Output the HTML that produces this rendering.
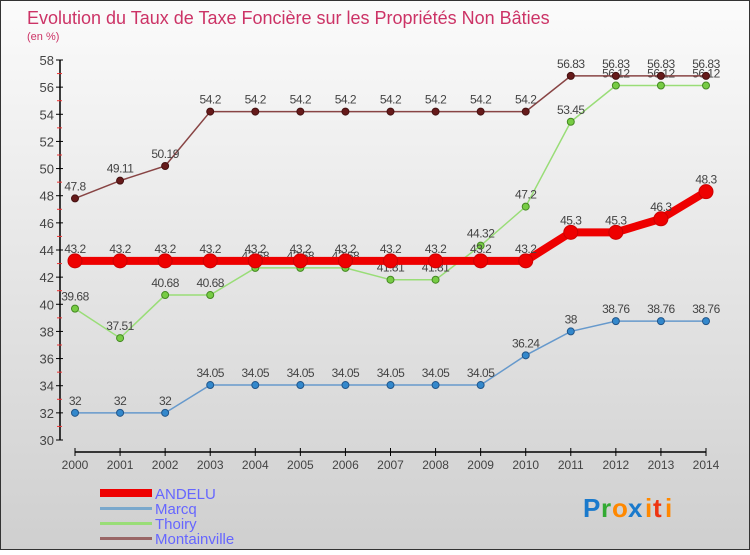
<!DOCTYPE html>
<html><head><meta charset="utf-8"><style>
body{margin:0}
svg text{font-family:"Liberation Sans",sans-serif}
</style></head><body>
<svg width="750" height="550" viewBox="0 0 750 550">
<defs><linearGradient id="bg" x1="0" y1="0" x2="0" y2="1"><stop offset="0" stop-color="#fbfbfb"/><stop offset="1" stop-color="#cfcfcf"/></linearGradient></defs>
<rect x="0.5" y="0.5" width="749" height="549" fill="url(#bg)" stroke="#333"/>
<text x="27" y="24" font-size="18" fill="#cc3366">Evolution du Taux de Taxe Foncière sur les Propriétés Non Bâties</text>
<text x="27" y="40" font-size="11" fill="#cc3366">(en %)</text>
<g id="axes"></g>
<g id="series"></g>
<g>
<rect x="100" y="489" width="52" height="8" fill="#ee0000"/>
<text x="155" y="499" font-size="15" fill="#6666ff">ANDELU</text>
<rect x="100" y="507" width="52" height="3" fill="#7aa8cc"/>
<text x="155" y="514" font-size="15" fill="#6666ff">Marcq</text>
<rect x="100" y="522" width="52" height="3" fill="#99dd77"/>
<text x="155" y="529" font-size="15" fill="#6666ff">Thoiry</text>
<rect x="100" y="537" width="52" height="3" fill="#996666"/>
<text x="155" y="544" font-size="15" fill="#6666ff">Montainville</text>
</g>
<g font-size="26" font-weight="bold">
<text x="583" y="517" fill="#1a7acc">P</text><text x="601" y="517" fill="#33aa33">r</text><text x="612" y="517" fill="#ff8800">o</text><text x="628" y="517" fill="#1a7acc">x</text><text x="645" y="517" fill="#ff8800">i</text><text x="653" y="517" fill="#ee3311">t</text><text x="665" y="517" fill="#ff8800">i</text>
</g>
</svg>
<script>
const years=["2000","2001","2002","2003","2004","2005","2006","2007","2008","2009","2010","2011","2012","2013","2014"];
const yTicks=[30,32,34,36,38,40,42,44,46,48,50,52,54,56,58];
const andelu=[43.2,43.2,43.2,43.2,43.2,43.2,43.2,43.2,43.2,43.2,43.2,45.3,45.3,46.3,48.3];
const marcq=[32,32,32,34.05,34.05,34.05,34.05,34.05,34.05,34.05,36.24,38,38.76,38.76,38.76];
const thoiry=[39.68,37.51,40.68,40.68,42.68,42.68,42.68,41.81,41.81,44.32,47.2,53.45,56.12,56.12,56.12];
const montainville=[47.8,49.11,50.19,54.2,54.2,54.2,54.2,54.2,54.2,54.2,54.2,56.83,56.83,56.83,56.83];
const NS="http://www.w3.org/2000/svg";
function X(i){return 75+i*(706-75)/(years.length-1);}
function Y(v){return 440-(v-30)*(380/28);}
function mk(t,a,p){const e=document.createElementNS(NS,t);for(const k in a)e.setAttribute(k,a[k]);(p||document.getElementById('series')).appendChild(e);return e;}
const ax=document.getElementById('axes');
let yl=mk('line',{x1:60,y1:Y(58),x2:60,y2:Y(30),stroke:'#000','stroke-width':1.5},ax);


yTicks.forEach(v=>{
 mk('line',{x1:56,y1:Y(v),x2:63,y2:Y(v),stroke:'#000'},ax);
 if(v<58)mk('line',{x1:57,y1:Y(v+1),x2:62,y2:Y(v+1),stroke:'#e33'},ax);
 let t=mk('text',{x:54,y:Y(v)+5,'text-anchor':'end','font-size':13,fill:'#444'},ax);t.textContent=v;
 
 
});
let xl=mk('line',{x1:X(0),y1:452,x2:X(14),y2:452,stroke:'#000','stroke-width':1.5},ax);


years.forEach((y,i)=>{
 mk('line',{x1:X(i),y1:448,x2:X(i),y2:456,stroke:'#000'},ax);
 let t=mk('text',{x:X(i),y:469,'text-anchor':'middle','font-size':12,fill:'#444'},ax);t.textContent=y;
 
 
});
function series(name,data,color,dot,w,r,fill){
 const g=mk('g',{});
 
 
 mk('polyline',{points:data.map((v,i)=>X(i)+','+Y(v)).join(' '),fill:'none',stroke:color,'stroke-width':w},g);
 data.forEach((v,i)=>{
  const c=mk('circle',{cx:X(i),cy:Y(v),r:r,fill:fill,stroke:dot,'stroke-width':1},g);
  
  
  const t=mk('text',{x:X(i),y:Y(v)-8,'text-anchor':'middle','font-size':12,fill:'#444','letter-spacing':'-0.5'},g);
  t.textContent=String(v);
  
  
 });
}
series('marcq',marcq,'#6699cc','#225588',1.5,3.5,'#3388cc');
series('thoiry',thoiry,'#99dd77','#448822',1.5,3.5,'#77cc44');
series('montainville',montainville,'#884444','#441111',1.5,3.5,'#661a1a');
series('andelu',andelu,'#ee0000','#cc0000',8,7,'#ee0000');
</script>
</body></html>
